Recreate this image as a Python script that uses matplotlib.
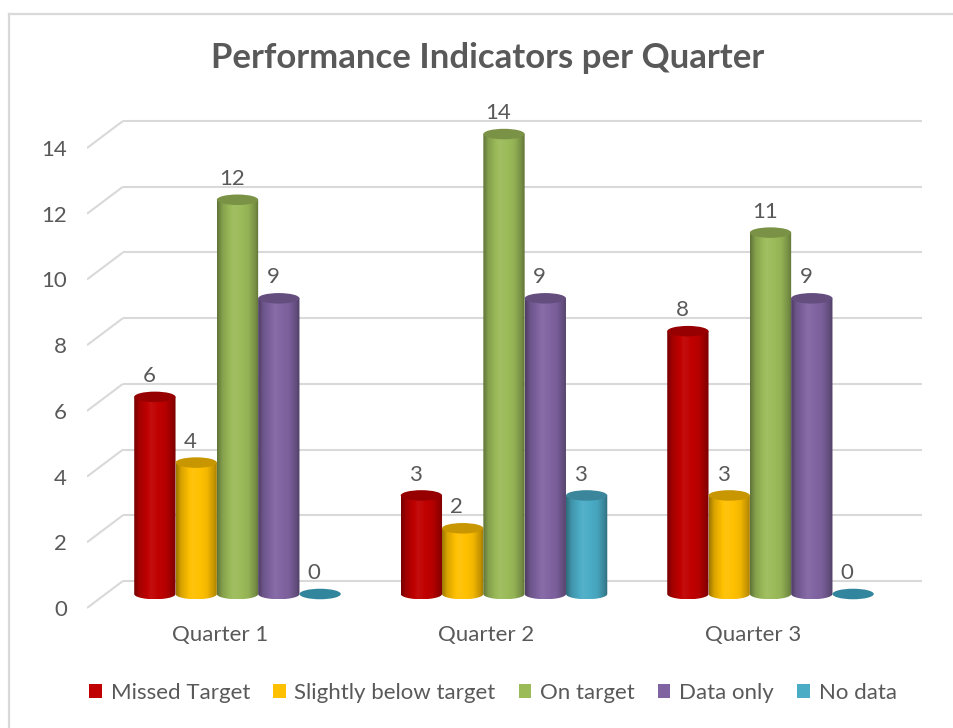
import numpy as np
import matplotlib
matplotlib.use("Agg")
import matplotlib.pyplot as plt
from matplotlib.patches import Ellipse, PathPatch, Patch
from matplotlib.path import Path
from matplotlib.lines import Line2D
from matplotlib.colors import to_rgb

# ---------------- data ----------------
quarters = ["Quarter 1", "Quarter 2", "Quarter 3"]
series = ["Missed Target", "Slightly below target", "On target", "Data only", "No data"]
missed_target = [6, 3, 8]
slightly_below = [4, 2, 3]
on_target = [12, 14, 11]
data_only = [9, 9, 9]
no_data = [0, 3, 0]
y_ticks = [0, 2, 4, 6, 8, 10, 12, 14]
title = "Performance Indicators per Quarter"

values = [missed_target, slightly_below, on_target, data_only, no_data]
colors = ["#C00000", "#FFC000", "#9BBB59", "#8064A2", "#4BACC6"]
zero_color = "#31859C"
text_color = "#595959"
grid_color = "#D9D9D9"

plt.rcParams["font.family"] = ["Lato", "DejaVu Sans"]

W, H = 954, 728
fig = plt.figure(figsize=(W / 100, H / 100), dpi=100)
fig.patch.set_facecolor("white")

# axes placement (pixels)
ax_l, ax_r, ax_b, ax_t = 87, 922, 610, 115
ax = fig.add_axes([ax_l / W, 1 - ax_b / H, (ax_r - ax_l) / W, (ax_b - ax_t) / H])
ax.set_facecolor("none")

xlim = (-0.5647, 2.5685)
ylim = (-0.487, 14.58)
depth_back = 0.396   # back wall offset (value units)
depth_front = 0.426  # front edge offset
back_left = -0.43

bw = 0.155  # bar width
eh = 0.32   # ellipse height (value units)

# gridlines with perspective
for v in y_ticks:
    ax.plot([back_left, xlim[1]], [v + depth_back, v + depth_back], color=grid_color,
            lw=1.5, zorder=1, solid_capstyle="butt")
    ax.plot([xlim[0], back_left], [v - depth_front, v + depth_back], color=grid_color,
            lw=1.5, zorder=1, solid_capstyle="butt")


def shade(c, f):
    r = np.array(to_rgb(c))
    if f <= 1:
        return np.clip(r * f, 0, 1)
    return np.clip(r + (1 - r) * (f - 1), 0, 1)


def gradient_image(c, n=64):
    t = np.linspace(0, 1, n)
    # dark left edge, highlight around 40%, darker right edge
    f = np.interp(t, [0, 0.12, 0.4, 0.75, 0.93, 1.0], [0.62, 0.85, 1.06, 0.95, 0.75, 0.62])
    img = np.array([shade(c, fi) for fi in f])
    return img[np.newaxis, :, :]


theta = np.linspace(np.pi, 2 * np.pi, 40)
z = 3
for gi in range(len(quarters)):
    for si, (vals, c) in enumerate(zip(values, colors)):
        v = vals[gi]
        xc = gi + (si - 2) * bw
        if v == 0:
            ax.add_patch(Ellipse((xc, 0), bw, eh, facecolor=zero_color,
                                 edgecolor="none", zorder=z))
        else:
            bx = xc + (bw / 2) * np.cos(theta)
            by = (eh / 2) * np.sin(theta)
            verts = list(zip(bx, by)) + [(xc + bw / 2, v), (xc - bw / 2, v), (xc - bw / 2, 0)]
            codes = [Path.MOVETO] + [Path.LINETO] * (len(verts) - 2) + [Path.CLOSEPOLY]
            body = PathPatch(Path(verts, codes), facecolor="none", edgecolor="none",
                             transform=ax.transData)
            ax.add_patch(body)
            im = ax.imshow(gradient_image(c), extent=(xc - bw / 2, xc + bw / 2, -eh / 2, v),
                           aspect="auto", origin="lower", interpolation="bilinear", zorder=z)
            im.set_clip_path(body)
            ax.add_patch(Ellipse((xc, v), bw, eh, facecolor=shade(c, 0.78),
                                 edgecolor="none", zorder=z + 0.5))
        ax.annotate(str(v), (xc - 0.022, v), xytext=(0, 15), textcoords="offset points",
                    ha="center", va="center", fontsize=16, color=text_color, zorder=10)
        z += 1

ax.set_xlim(*xlim)
ax.set_ylim(*ylim)

ax.set_yticks([v - depth_front for v in y_ticks], labels=[str(v) for v in y_ticks])
ax.set_xticks([i - 0.066 for i in range(len(quarters))], labels=quarters)
ax.tick_params(axis="y", length=0, pad=14.4, labelsize=16, labelcolor=text_color)
ax.tick_params(axis="x", length=0, pad=11, labelsize=16, labelcolor=text_color)
for s in ax.spines.values():
    s.set_visible(False)

fig.text(488 / W, 1 - 58 / H, title, ha="center", va="center", fontsize=25,
         fontweight="bold", color=text_color)

handles = [Patch(facecolor=c, edgecolor="none", label=s) for s, c in zip(series, colors)]
fig.legend(handles=handles, loc="center", bbox_to_anchor=(493 / W, 1 - 693 / H), ncol=5,
           frameon=False, fontsize=16, handlelength=0.55, handleheight=0.55,
           handletextpad=0.4, columnspacing=1.05, labelcolor=text_color)

# chart frame (left and top)
fig.add_artist(Line2D([9 / W, 9 / W], [0, 1 - 14 / H], transform=fig.transFigure,
                      color=grid_color, lw=1.6))
fig.add_artist(Line2D([9 / W, 1], [1 - 14 / H, 1 - 14 / H], transform=fig.transFigure,
                      color=grid_color, lw=1.6))

fig.savefig("out.png", dpi=100, facecolor="white")
